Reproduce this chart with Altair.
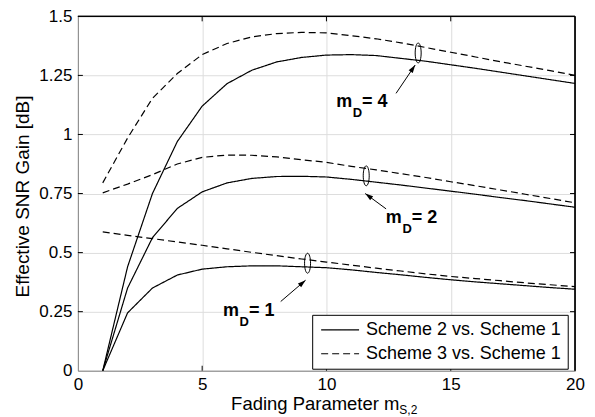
import altair as alt
import pandas as pd

# ---------------- data ----------------
m_s2 = list(range(1, 21))

# Scheme 2 vs. Scheme 1 (solid)
s2_md1 = [0.0, 0.245, 0.35, 0.405, 0.430, 0.440, 0.444, 0.444, 0.440, 0.436,
          0.427, 0.416, 0.406, 0.395, 0.385, 0.376, 0.368, 0.360, 0.352, 0.345]
s2_md2 = [0.0, 0.35, 0.563, 0.687, 0.757, 0.795, 0.814, 0.822, 0.823, 0.820,
          0.810, 0.798, 0.786, 0.773, 0.760, 0.747, 0.733, 0.720, 0.706, 0.692]
s2_md4 = [0.0, 0.44, 0.75, 0.97, 1.12, 1.215, 1.272, 1.307, 1.326, 1.336,
          1.338, 1.334, 1.322, 1.310, 1.295, 1.280, 1.264, 1.248, 1.232, 1.216]

# Scheme 3 vs. Scheme 1 (dashed)
s3_md1 = [0.588, 0.573, 0.559, 0.545, 0.531, 0.516, 0.501, 0.487, 0.473, 0.460,
          0.447, 0.434, 0.422, 0.410, 0.399, 0.390, 0.381, 0.372, 0.364, 0.356]
s3_md2 = [0.753, 0.79, 0.83, 0.875, 0.903, 0.913, 0.912, 0.905, 0.893, 0.882,
          0.865, 0.850, 0.834, 0.818, 0.800, 0.783, 0.765, 0.747, 0.729, 0.711]
s3_md4 = [0.795, 0.985, 1.153, 1.258, 1.338, 1.385, 1.413, 1.427, 1.432, 1.430,
          1.418, 1.405, 1.388, 1.368, 1.348, 1.328, 1.308, 1.289, 1.270, 1.250]

schemes = ["Scheme 2 vs. Scheme 1", "Scheme 3 vs. Scheme 1"]
md_values = [1, 2, 4]

x_ticks = [0, 5, 10, 15, 20]
y_ticks = [0, 0.25, 0.5, 0.75, 1, 1.25, 1.5]
x_inner = [5, 10, 15]
y_inner = [0.25, 0.5, 0.75, 1, 1.25]

# annotations: "m_D = k" label anchors, arrows, pairing ellipses
ann_rest = [" = 4", " = 2", " = 1"]
ann_x = [10.39, 12.39, 5.84]
ann_y = [1.115, 0.626, 0.233]
arrow_x1 = [12.8, 12.4, 8.16]
arrow_y1 = [1.174, 0.685, 0.293]
arrow_x2 = [13.57, 11.56, 9.16]
arrow_y2 = [1.294, 0.750, 0.383]
arrow_ang = [34, 306.6, 49]
ell_x = [13.69, 11.6, 9.24]
ell_y = [1.345, 0.825, 0.455]

# ---------------- tables ----------------
series = {
    schemes[0]: [s2_md1, s2_md2, s2_md4],
    schemes[1]: [s3_md1, s3_md2, s3_md4],
}
rows = []
for sch, lst in series.items():
    for md, ys in zip(md_values, lst):
        for xv, yv in zip(m_s2, ys):
            rows.append({"m": xv, "gain": yv, "scheme": sch, "md": md})
df = pd.DataFrame(rows)

ann = pd.DataFrame({"x": ann_x, "y": ann_y, "rest": ann_rest})
arr = pd.DataFrame({"x1": arrow_x1, "y1": arrow_y1, "x2": arrow_x2,
                    "y2": arrow_y2, "ang": arrow_ang})
ell = pd.DataFrame({"x": ell_x, "y": ell_y})
xt = pd.DataFrame({"v": x_inner})
yt = pd.DataFrame({"v": y_inner})

FONT = "Liberation Sans"
W, H = 498, 355

xscale = alt.Scale(domain=[0, 20], nice=False, zero=False)
yscale = alt.Scale(domain=[0, 1.5], nice=False, zero=False)

x_axis = alt.Axis(values=x_ticks, title="Fading Parameter m", grid=True,
                  ticks=False, labelPadding=6, labelFlush=False,
                  labelFontSize=17, titleFontSize=18.5,
                  titleFontWeight="normal", titleFont=FONT,
                  titleX=153, titleY=39, titleAlign="left",
                  titleBaseline="alphabetic")
y_axis = alt.Axis(values=y_ticks, title="Effective SNR Gain [dB]", grid=True,
                  ticks=False, labelPadding=6, labelFlush=False,
                  labelExpr="'' + datum.value",
                  labelFontSize=17, titleFontSize=19, titleAngle=270,
                  titleFontWeight="normal", titleFont=FONT,
                  titleX=-49.4, titleY=180, titleAlign="center",
                  titleBaseline="alphabetic")


def X(f):
    return alt.X(f, scale=xscale, axis=x_axis)


def Y(f):
    return alt.Y(f, scale=yscale, axis=y_axis)


lines = alt.Chart(df).mark_line(color="black", strokeWidth=1.2).encode(
    x=X("m:Q"),
    y=Y("gain:Q"),
    strokeDash=alt.StrokeDash(
        "scheme:N",
        scale=alt.Scale(domain=schemes, range=[[1, 0], [7, 4]]),
        legend=alt.Legend(
            orient="none", legendX=234.7, legendY=299, title=None,
            symbolType="M-1,0L5.33,0", symbolSize=144,
            symbolStrokeColor="black", symbolStrokeWidth=1.2,
            symbolFillColor="transparent",
            labelFont=FONT, labelFontSize=18, labelColor="black",
            labelLimit=400,
            labelOffset=30, padding=6, rowPadding=6,
            fillColor="white", strokeColor="black",
        ),
    ),
    detail="md:N",
)

tick_b = alt.Chart(xt).mark_rule(color="black").encode(
    x=X("v:Q"), y=alt.value(H), y2=alt.value(H - 5))
tick_t = alt.Chart(xt).mark_rule(color="black").encode(
    x=X("v:Q"), y=alt.value(0), y2=alt.value(5))
tick_l = alt.Chart(yt).mark_rule(color="black").encode(
    y=Y("v:Q"), x=alt.value(0), x2=alt.value(5))
tick_r = alt.Chart(yt).mark_rule(color="black").encode(
    y=Y("v:Q"), x=alt.value(W), x2=alt.value(W - 5))

# plot frame (top and right edges)
frame_t = alt.Chart(xt).mark_rule(color="black").encode(
    x=alt.value(0), x2=alt.value(W), y=alt.value(0))
frame_r = alt.Chart(xt).mark_rule(color="black").encode(
    x=alt.value(W), y=alt.value(0), y2=alt.value(H))

txt_m = alt.Chart(ann).mark_text(
    text="m", align="left", baseline="alphabetic", font=FONT, fontSize=18,
    fontWeight="bold", color="black").encode(x=X("x:Q"), y=Y("y:Q"))
txt_d = alt.Chart(ann).mark_text(
    text="D", align="left", baseline="alphabetic", font=FONT, fontSize=13,
    fontWeight="bold", color="black", dx=16.6, dy=10).encode(
    x=X("x:Q"), y=Y("y:Q"))
txt_r = alt.Chart(ann).mark_text(
    align="left", baseline="alphabetic", font=FONT, fontSize=18,
    fontWeight="bold", color="black", dx=26).encode(
    x=X("x:Q"), y=Y("y:Q"), text="rest:N")

arrow_line = alt.Chart(arr).mark_rule(color="black", strokeWidth=1).encode(
    x=X("x1:Q"), y=Y("y1:Q"), x2="x2:Q", y2="y2:Q")
arrow_head = alt.Chart(arr).mark_point(
    shape="M0,0L-0.5,1.6L0.5,1.6Z", filled=True, color="black", size=100,
    opacity=1).encode(
    x=X("x2:Q"), y=Y("y2:Q"), angle=alt.Angle("ang:Q", scale=None))
ellipses = alt.Chart(ell).mark_point(
    shape="M0,-1A0.3,1 0 1,1 0,1A0.3,1 0 1,1 0,-1Z", filled=False,
    color="black", size=400, strokeWidth=1, opacity=1).encode(
    x=X("x:Q"), y=Y("y:Q"))

sub = alt.Chart(pd.DataFrame({"t": ["S,2"]})).mark_text(
    align="left", baseline="alphabetic", font=FONT, fontSize=12,
    color="black").encode(x=alt.value(322), y=alt.value(H + 43), text="t:N")

chart = alt.layer(
    lines, tick_b, tick_t, tick_l, tick_r, frame_t, frame_r,
    arrow_line, arrow_head, ellipses, txt_m, txt_d, txt_r, sub
).properties(
    width=W, height=H,
    padding={"left": 70, "top": 8, "right": 12, "bottom": 46},
    autosize=alt.AutoSizeParams(type="none"),
).configure_view(
    stroke="black", strokeWidth=1
).configure_axis(
    labelFont=FONT, titleFont=FONT, labelColor="black", titleColor="black",
    titleFontWeight="normal", domainColor="black", domainWidth=1,
    gridColor="#333", gridDash=[1, 3], gridWidth=1, gridOpacity=1,
    labelOverlap=False,
).configure(background="white")

chart.save("out.html", embed_options={"renderer": "svg", "actions": False})
